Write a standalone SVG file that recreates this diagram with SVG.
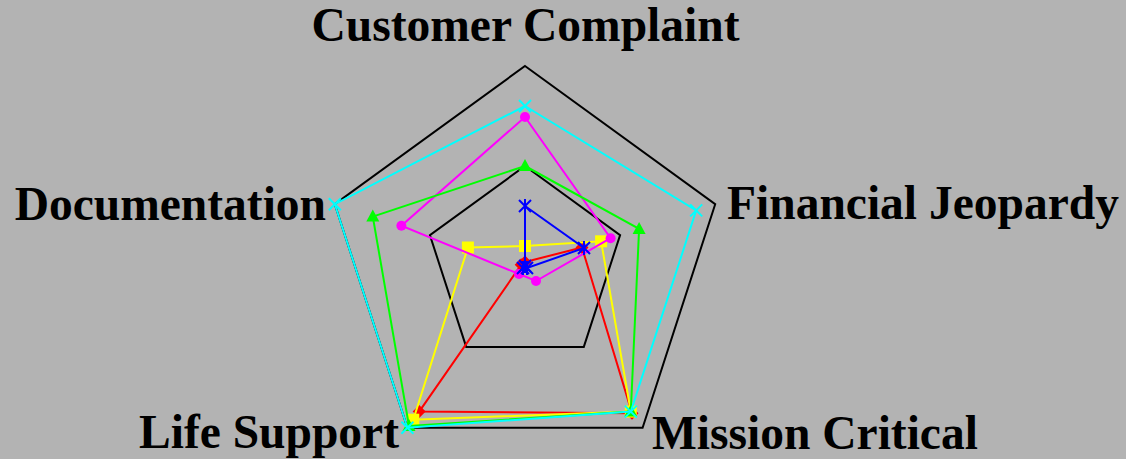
<svg xmlns="http://www.w3.org/2000/svg" xmlns:xlink="http://www.w3.org/1999/xlink" width="1126" height="459" viewBox="0 0 1126 459">
<style>
.lbl{font-family:"Liberation Serif","Times New Roman",serif;font-weight:bold;font-size:47.5px;fill:#000}
.grid{fill:none;stroke:#000;stroke-width:2}
.ln{fill:none;stroke-width:2;stroke-linejoin:miter}
</style>
<defs>
<path id="mx" d="M-6,-6L6,6M-6,6L6,-6" stroke="#00ffff" stroke-width="2" fill="none"/>
<circle id="mc" r="5" fill="#ff00ff"/>
<polygon id="mt" points="0,-7 6.5,5 -6.5,5" fill="#00ff00"/>
<polygon id="md" points="0,-6.5 6.5,0 0,6.5 -6.5,0" fill="#ff0000"/>
<path id="ms" d="M-6,-6L6,6M-6,6L6,-6M0,-7L0,7" stroke="#0000ff" stroke-width="2" fill="none"/>
<rect id="mq" x="-6" y="-6" width="12" height="12" fill="#ffff00"/>
</defs>
<rect width="1126" height="459" fill="#b3b3b3"/>
<g id="grid">
<polygon class="grid" points="525,66 715.2,204.2 642.6,427.8 407.4,427.8 334.8,204.2"/>
<polygon class="grid" points="525,166 620.1,235.1 583.8,346.9 466.2,346.9 429.9,235.1"/>
</g>
<g id="labels">
<text class="lbl" x="525.5" y="41" text-anchor="middle">Customer Complaint</text>
<text class="lbl" x="727" y="219">Financial Jeopardy</text>
<text class="lbl" x="652" y="449">Mission Critical</text>
<text class="lbl" x="399" y="448" text-anchor="end">Life Support</text>
<text class="lbl" x="326" y="220" text-anchor="end">Documentation</text>
</g>
<g id="series-red">
<polygon class="ln" stroke="#ff0000" points="525,262 582,247.5 632,413.2 419.2,411.6 521.2,264.8"/>
<use xlink:href="#md" x="525" y="262"/>
<use xlink:href="#md" x="582" y="247.5"/>
<use xlink:href="#md" x="632" y="413.2"/>
<use xlink:href="#md" x="419.2" y="411.6"/>
<use xlink:href="#md" x="521.2" y="264.8"/>
</g>
<g id="series-yellow">
<polygon class="ln" stroke="#ffff00" points="525,246 601.1,241.3 630.8,411.6 413.3,419.7 467.9,247.5"/>
<use xlink:href="#mq" x="525" y="246"/>
<use xlink:href="#mq" x="601.1" y="241.3"/>
<use xlink:href="#mq" x="630.8" y="411.6"/>
<use xlink:href="#mq" x="413.3" y="419.7"/>
<use xlink:href="#mq" x="467.9" y="247.5"/>
</g>
<g id="series-magenta">
<polygon class="ln" stroke="#ff00ff" points="525,117 610.6,238.2 536,281 519,274 401.4,225.8"/>
<use xlink:href="#mc" x="525" y="117"/>
<use xlink:href="#mc" x="610.6" y="238.2"/>
<use xlink:href="#mc" x="536" y="281"/>
<use xlink:href="#mc" x="519" y="274"/>
<use xlink:href="#mc" x="401.4" y="225.8"/>
</g>
<g id="series-blue">
<polygon class="ln" stroke="#0000ff" points="525,206 584,248 527,268 523,268 525,266"/>
<use xlink:href="#ms" x="525" y="206"/>
<use xlink:href="#ms" x="584" y="248"/>
<use xlink:href="#ms" x="527" y="268"/>
<use xlink:href="#ms" x="523" y="268"/>
<use xlink:href="#ms" x="525" y="266"/>
</g>
<g id="series-green">
<polygon class="ln" stroke="#00ff00" points="525,166 639.1,228.9 630.8,411.6 409,426 372.8,216.6"/>
<use xlink:href="#mt" x="525" y="166"/>
<use xlink:href="#mt" x="639.1" y="228.9"/>
<use xlink:href="#mt" x="630.8" y="411.6"/>
<use xlink:href="#mt" x="409" y="426"/>
<use xlink:href="#mt" x="372.8" y="216.6"/>
</g>
<g id="series-cyan">
<polygon class="ln" stroke="#00ffff" points="525,106 696.2,210.4 630.8,411.6 407.4,427.8 334.8,204.2"/>
<use xlink:href="#mx" x="525" y="106"/>
<use xlink:href="#mx" x="696.2" y="210.4"/>
<use xlink:href="#mx" x="630.8" y="411.6"/>
<use xlink:href="#mx" x="407.4" y="427.8"/>
<use xlink:href="#mx" x="334.8" y="204.2"/>
</g>
</svg>
